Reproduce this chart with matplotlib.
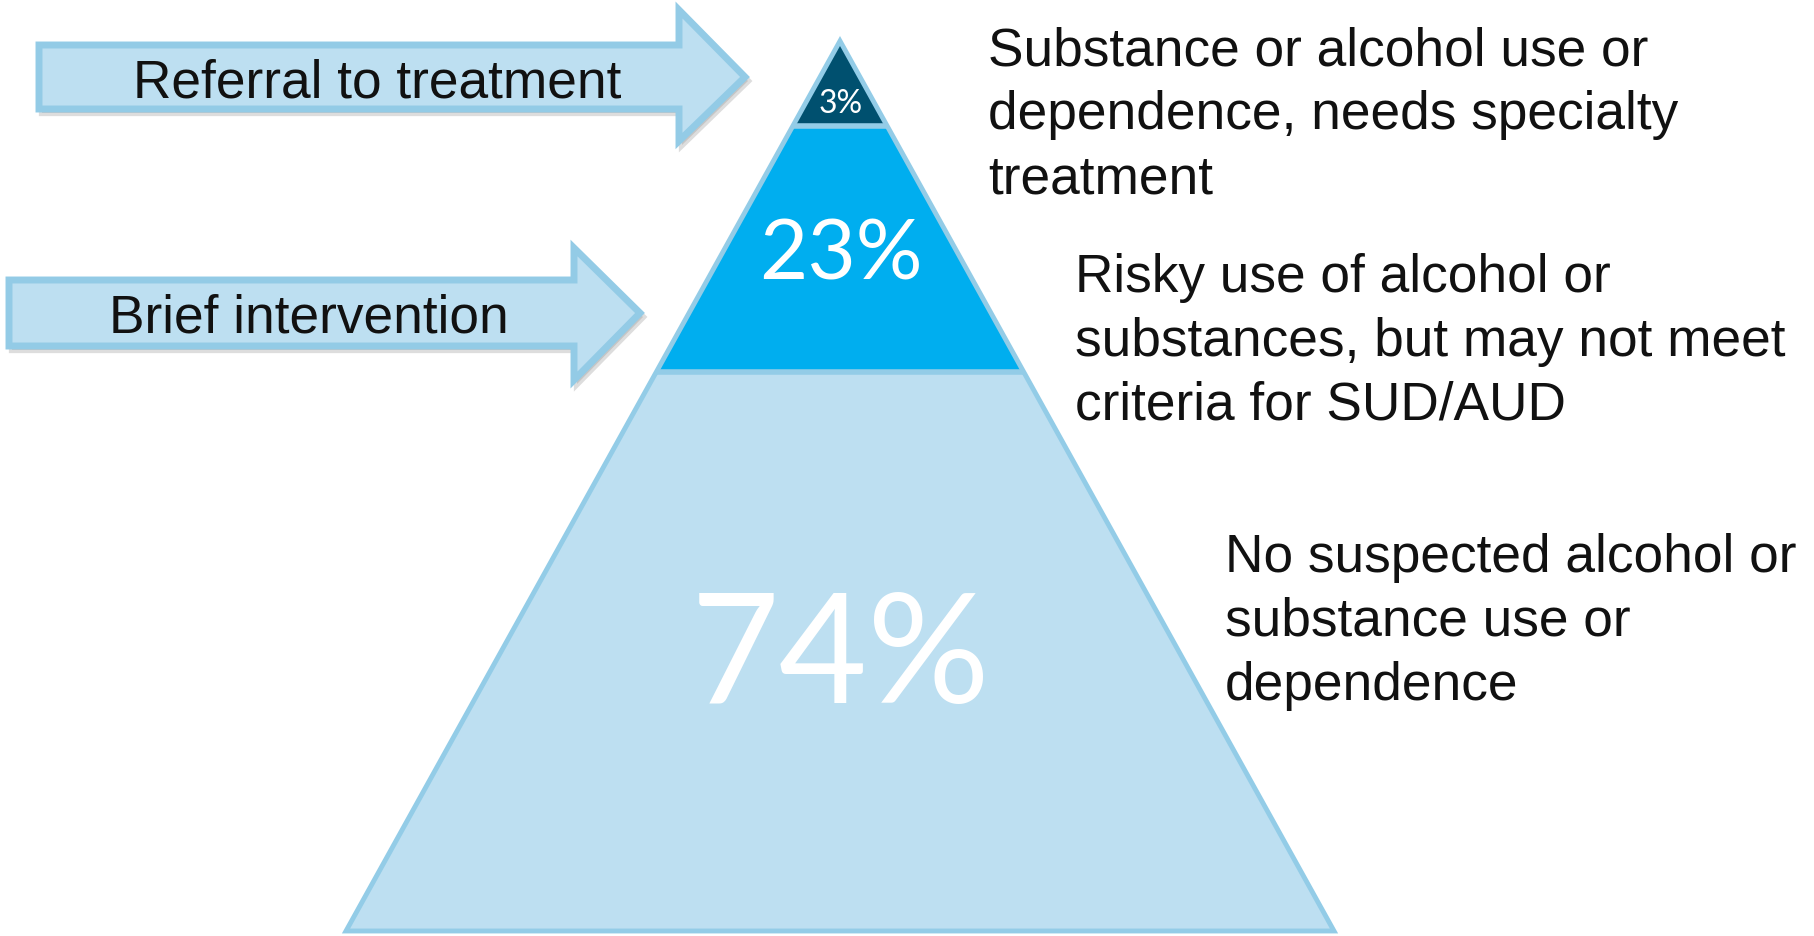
import matplotlib
matplotlib.use("Agg")
import matplotlib.pyplot as plt
from matplotlib.patches import Polygon

# ---------------- data ----------------
pct_labels = ["3%", "23%", "74%"]                     # top -> bottom
descriptions = [
    ["Substance or alcohol use or", "dependence, needs specialty", "treatment"],
    ["Risky use of alcohol or", "substances, but may not meet", "criteria for SUD/AUD"],
    ["No suspected alcohol or", "substance use or", "dependence"],
]
arrow_labels = ["Referral to treatment", "Brief intervention"]

# ---------------- style / layout ----------------
W, H = 1814, 937
fills = ["#00506F", "#00AEEF", "#BDDFF1"]
edge = "#93CCE7"
pct_sizes = [23, 60, 110]
pct_baselines = [113, 280, 703]
band_bounds = [0.0, 0.0954, 0.3715, 1.0]   # fraction of pyramid height (layout)
apex = (840, 42)
base_y = 932
half_base = 494

desc_pos = [(988, 65), (1075, 292), (1225, 572)]
line_gap = 64

# arrows: (shaft_left, shaft_top, shaft_bottom, head_x, head_top, head_bottom, tip_x)
arrow_geom = [
    (39, 46, 110, 679, 11, 142, 745),
    (9, 281, 347, 574, 249, 381, 640),
]
arrow_text_pos = [(377, 97), (309, 333)]

fig = plt.figure(figsize=(W / 100, H / 100), dpi=100)
ax = fig.add_axes([0, 0, 1, 1])
ax.set_xlim(0, W)
ax.set_ylim(H, 0)
ax.axis("off")

# ---------- arrows ----------
for (sl, st, sb, hx, ht, hb, tx), lab, (lx, ly) in zip(arrow_geom, arrow_labels, arrow_text_pos):
    ty = (st + sb) / 2
    pts = [(sl, st), (hx, st), (hx, ht), (tx, ty), (hx, hb), (hx, sb), (sl, sb)]
    shadow = Polygon([(x + 3, y + 4) for x, y in pts], closed=True,
                     facecolor="#8f8f8f", edgecolor="#8f8f8f", linewidth=4.5,
                     alpha=0.3, zorder=1)
    ax.add_patch(shadow)
    ax.add_patch(Polygon(pts, closed=True, facecolor="#BDDFF1", edgecolor="#93CBE6",
                         linewidth=5.0, joinstyle="miter", zorder=2))
    ax.text(lx, ly, lab, fontsize=38.3, family="Liberation Sans", color="#111111",
            ha="center", va="baseline", zorder=3)

# ---------- pyramid ----------
height = base_y - apex[1]
def half_w(y):
    return half_base * (y - apex[1]) / height

for i in range(3):
    y0 = apex[1] + band_bounds[i] * height
    y1 = apex[1] + band_bounds[i + 1] * height
    pts = [(apex[0] - half_w(y0), y0), (apex[0] + half_w(y0), y0),
           (apex[0] + half_w(y1), y1), (apex[0] - half_w(y1), y1)]
    ax.add_patch(Polygon(pts, closed=True, facecolor=fills[i], edgecolor="none", zorder=4))

for b in band_bounds[1:-1]:
    y = apex[1] + b * height
    ax.plot([apex[0] - half_w(y), apex[0] + half_w(y)], [y, y], color=edge,
            linewidth=4.0, solid_capstyle="butt", zorder=5)

tri = [apex, (apex[0] + half_base, base_y), (apex[0] - half_base, base_y)]
ax.add_patch(Polygon(tri, closed=True, facecolor="none", edgecolor=edge,
                     linewidth=3.5, joinstyle="miter", zorder=6))

for lab, fs, by in zip(pct_labels, pct_sizes, pct_baselines):
    ax.text(apex[0] + 1, by, lab, fontsize=fs, family="Lato", color="white",
            ha="center", va="baseline", zorder=7)

# ---------- descriptions ----------
for lines, (x, y) in zip(descriptions, desc_pos):
    for k, line in enumerate(lines):
        ax.text(x, y + k * line_gap, line, fontsize=38.3, family="Liberation Sans",
                color="#111111", ha="left", va="baseline", zorder=7)

fig.savefig("out.png", dpi=100, facecolor="white")
